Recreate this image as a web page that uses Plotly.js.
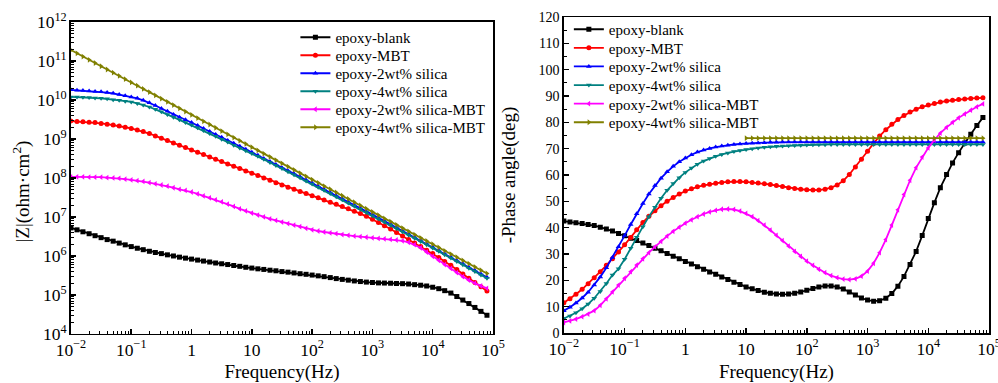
<!DOCTYPE html>
<html>
<head>
<meta charset="utf-8">
<script src="https://cdn.plot.ly/plotly-3.0.1.min.js"></script>
<style>html,body{margin:0;padding:0;background:#fff;}#chart{width:998px;height:383px;}</style>
</head>
<body>
<div id="chart"></div>
<script>
// Frequency (Hz), 10 points per decade, 0.01 Hz to ~79 kHz
var freq = [0.01,0.0126,0.0158,0.02,0.0251,0.0316,0.0398,0.0501,0.0631,0.0794,
  0.1,0.126,0.158,0.2,0.251,0.316,0.398,0.501,0.631,0.794,
  1,1.26,1.58,2,2.51,3.16,3.98,5.01,6.31,7.94,
  10,12.6,15.8,20,25.1,31.6,39.8,50.1,63.1,79.4,
  100,126,158,200,251,316,398,501,631,794,
  1000,1260,1580,2000,2510,3160,3980,5010,6310,7940,
  10000,12600,15800,20000,25100,31600,39800,50100,63100,79400];

var seriesNames = ["epoxy-blank","epoxy-MBT","epoxy-2wt% silica","epoxy-4wt% silica","epoxy-2wt% silica-MBT","epoxy-4wt% silica-MBT"];

// |Z| (ohm·cm²)
var zBlank = [5.25e6,4.68e6,4.17e6,3.72e6,3.31e6,2.95e6,2.63e6,2.40e6,2.14e6,1.93e6,
  1.74e6,1.58e6,1.45e6,1.32e6,1.23e6,1.15e6,1.07e6,1.00e6,9.33e5,8.81e5,
  8.32e5,7.85e5,7.41e5,7.00e5,6.61e5,6.31e5,6.03e5,5.69e5,5.43e5,5.13e5,
  4.90e5,4.68e5,4.52e5,4.32e5,4.17e5,3.98e5,3.85e5,3.67e5,3.51e5,3.39e5,
  3.24e5,3.09e5,2.95e5,2.79e5,2.63e5,2.51e5,2.40e5,2.29e5,2.21e5,2.14e5,
  2.09e5,2.04e5,2.02e5,2.00e5,1.97e5,1.95e5,1.91e5,1.84e5,1.78e5,1.70e5,
  1.58e5,1.45e5,1.29e5,1.12e5,9.12e4,7.41e4,6.03e4,4.79e4,3.80e4,3.02e4];
var zMBT = [2.88e9,2.82e9,2.75e9,2.69e9,2.63e9,2.51e9,2.40e9,2.29e9,2.14e9,2.00e9,
  1.86e9,1.70e9,1.55e9,1.38e9,1.20e9,1.05e9,9.12e8,7.94e8,6.92e8,6.03e8,
  5.25e8,4.57e8,3.98e8,3.47e8,3.02e8,2.63e8,2.29e8,2.00e8,1.74e8,1.51e8,
  1.32e8,1.15e8,1.00e8,8.71e7,7.59e7,6.61e7,5.82e7,5.13e7,4.52e7,3.98e7,
  3.51e7,3.09e7,2.72e7,2.40e7,2.11e7,1.86e7,1.62e7,1.41e7,1.22e7,1.04e7,
  8.71e6,7.24e6,5.96e6,4.90e6,3.98e6,3.24e6,2.63e6,2.14e6,1.74e6,1.41e6,
  1.15e6,9.12e5,7.24e5,5.75e5,4.47e5,3.47e5,2.69e5,2.09e5,1.62e5,1.26e5];
var zSi2 = [1.82e10,1.78e10,1.74e10,1.70e10,1.66e10,1.62e10,1.55e10,1.48e10,1.38e10,1.29e10,
  1.20e10,1.10e10,9.77e9,8.51e9,7.24e9,6.03e9,5.13e9,4.27e9,3.63e9,3.09e9,
  2.63e9,2.21e9,1.85e9,1.56e9,1.31e9,1.10e9,9.20e8,7.73e8,6.49e8,5.45e8,
  4.57e8,3.81e8,3.18e8,2.65e8,2.21e8,1.84e8,1.53e8,1.28e8,1.07e8,8.89e7,
  7.41e7,6.15e7,5.11e7,4.24e7,3.52e7,2.92e7,2.42e7,2.01e7,1.67e7,1.38e7,
  1.15e7,9.48e6,7.83e6,6.47e6,5.35e6,4.42e6,3.65e6,3.01e6,2.49e6,2.06e6,
  1.70e6,1.39e6,1.14e6,9.35e5,7.67e5,6.28e5,5.15e5,4.23e5,3.46e5,2.84e5];
var zSi4 = [1.20e10,1.19e10,1.17e10,1.15e10,1.12e10,1.10e10,1.07e10,1.02e10,9.77e9,9.33e9,
  8.91e9,8.13e9,7.41e9,6.61e9,5.75e9,5.01e9,4.27e9,3.63e9,3.09e9,2.63e9,
  2.29e9,1.95e9,1.66e9,1.38e9,1.17e9,9.77e8,8.32e8,6.92e8,5.89e8,5.01e8,
  4.27e8,3.60e8,3.00e8,2.50e8,2.08e8,1.74e8,1.45e8,1.21e8,1.01e8,8.39e7,
  7.00e7,5.81e7,4.82e7,4.00e7,3.32e7,2.75e7,2.29e7,1.90e7,1.57e7,1.31e7,
  1.08e7,8.95e6,7.40e6,6.11e6,5.05e6,4.17e6,3.44e6,2.84e6,2.35e6,1.94e6,
  1.60e6,1.32e6,1.08e6,8.83e5,7.24e5,5.93e5,4.86e5,3.99e5,3.27e5,2.68e5];
var zSi2MBT = [1.07e8,1.07e8,1.07e8,1.05e8,1.05e8,1.05e8,1.02e8,1.00e8,9.77e7,9.33e7,
  8.91e7,8.51e7,8.13e7,7.59e7,7.08e7,6.61e7,6.17e7,5.62e7,5.13e7,4.79e7,
  4.37e7,3.89e7,3.47e7,3.09e7,2.75e7,2.45e7,2.14e7,1.86e7,1.62e7,1.43e7,
  1.26e7,1.12e7,1.00e7,8.91e6,8.13e6,7.41e6,6.76e6,6.17e6,5.62e6,5.13e6,
  4.68e6,4.37e6,4.12e6,3.89e6,3.72e6,3.55e6,3.39e6,3.24e6,3.13e6,3.02e6,
  2.92e6,2.82e6,2.75e6,2.66e6,2.57e6,2.45e6,2.24e6,1.95e6,1.62e6,1.26e6,
  9.77e5,7.76e5,6.03e5,4.79e5,3.76e5,2.95e5,2.40e5,2.00e5,1.70e5,1.48e5];
var zSi4MBT = [1.91e11,1.57e11,1.30e11,1.07e11,8.87e10,7.33e10,6.05e10,5.00e10,4.13e10,3.41e10,
  2.82e10,2.33e10,1.92e10,1.59e10,1.31e10,1.08e10,8.95e9,7.40e9,6.11e9,5.05e9,
  4.17e9,3.44e9,2.84e9,2.35e9,1.94e9,1.60e9,1.32e9,1.09e9,9.04e8,7.46e8,
  6.17e8,5.09e8,4.21e8,3.48e8,2.87e8,2.37e8,1.96e8,1.62e8,1.34e8,1.10e8,
  9.12e7,7.53e7,6.22e7,5.14e7,4.25e7,3.51e7,2.90e7,2.39e7,1.98e7,1.63e7,
  1.35e7,1.11e7,9.20e6,7.60e6,6.28e6,5.19e6,4.29e6,3.54e6,2.92e6,2.42e6,
  2.00e6,1.65e6,1.36e6,1.12e6,9.29e5,7.67e5,6.34e5,5.24e5,4.33e5,3.57e5];

// -Phase angle (deg)
var pBlank = [42.5,42.2,41.9,41.6,41.2,40.8,40.2,39.5,38.7,37.8,
  36.9,36.0,35.1,34.2,33.2,32.2,31.2,30.2,29.2,28.2,
  27.2,26.2,25.2,24.2,23.2,22.3,21.3,20.3,19.3,18.4,
  17.5,16.8,16.1,15.5,15.1,14.8,14.7,14.8,15.1,15.6,
  16.2,16.9,17.5,17.9,17.9,17.5,16.7,15.6,14.4,13.3,
  12.5,12.1,12.3,13.2,15.0,17.8,21.5,26.0,31.0,37.0,
  43.5,49.5,55.2,60.2,64.6,68.5,72.2,75.5,78.8,81.8];
var pMBT = [11.5,13.0,14.7,16.6,18.7,21.0,23.3,25.7,28.2,30.8,
  33.5,36.3,39.2,42.0,44.3,46.4,48.3,50.0,51.5,52.8,
  53.9,54.8,55.5,56.1,56.5,56.9,57.2,57.4,57.5,57.5,
  57.4,57.2,57.0,56.7,56.4,56.0,55.6,55.2,54.9,54.6,
  54.4,54.3,54.3,54.6,55.2,56.2,57.8,60.2,63.0,66.0,
  69.0,72.0,74.8,77.2,79.3,81.1,82.6,83.9,85.0,85.9,
  86.6,87.2,87.7,88.1,88.4,88.7,88.9,89.1,89.2,89.3];
var pSi2 = [8.5,9.8,11.4,13.3,15.5,18.2,21.3,24.8,28.7,32.8,
  37.0,41.2,45.3,49.2,52.8,56.0,58.8,61.2,63.3,65.0,
  66.5,67.7,68.7,69.5,70.1,70.6,71.0,71.3,71.6,71.8,
  72.0,72.1,72.2,72.3,72.4,72.4,72.5,72.5,72.5,72.5,
  72.5,72.5,72.5,72.5,72.5,72.5,72.5,72.5,72.5,72.5,
  72.5,72.5,72.5,72.5,72.5,72.5,72.5,72.5,72.5,72.5,
  72.5,72.5,72.5,72.5,72.5,72.5,72.5,72.5,72.5,72.5];
var pSi4 = [5.5,6.5,7.7,9.2,11.0,13.2,15.8,18.8,22.0,24.4,
  28.0,32.2,36.4,40.4,44.2,47.8,51.2,54.2,56.8,59.0,
  61.0,62.7,64.1,65.3,66.3,67.1,67.8,68.4,68.9,69.3,
  69.7,70.0,70.3,70.5,70.7,70.9,71.0,71.1,71.2,71.3,
  71.4,71.5,71.5,71.5,71.6,71.6,71.6,71.6,71.6,71.6,
  71.6,71.6,71.6,71.6,71.6,71.6,71.6,71.6,71.6,71.6,
  71.6,71.6,71.6,71.6,71.6,71.6,71.6,71.6,71.6,71.6];
var pSi2MBT = [4.0,4.6,5.3,6.2,7.2,8.5,10.5,13.0,15.6,18.2,
  20.8,23.3,25.8,28.2,30.5,32.7,34.8,36.8,38.6,40.2,
  41.7,43.0,44.2,45.2,46.0,46.6,47.0,47.1,46.9,46.3,
  45.4,44.2,42.7,41.0,39.1,37.1,35.1,33.0,31.0,29.1,
  27.3,25.7,24.2,22.9,21.8,21.0,20.5,20.3,20.6,21.6,
  23.5,26.5,30.5,35.5,41.0,46.8,52.6,58.0,62.8,66.8,
  70.3,73.3,75.9,78.1,80.0,81.7,83.2,84.6,85.9,87.0];
var pSi4MBT = [null,null,null,null,null,null,null,null,null,null,
  null,null,null,null,null,null,null,null,null,null,
  null,null,null,null,null,null,null,null,null,null,
  74.0,74.0,74.0,74.0,74.0,74.0,74.0,74.0,74.0,74.0,
  74.0,74.0,74.0,74.0,74.0,74.0,74.0,74.0,74.0,74.0,
  74.0,74.0,74.0,74.0,74.0,74.0,74.0,74.0,74.0,74.0,
  74.0,74.0,74.0,74.0,74.0,74.0,74.0,74.0,74.0,74.0];

var colors = ["#000000","#ff0000","#0000ff","#008080","#ff00ff","#808000"];
var symbols = ["square","circle","triangle-up","triangle-down","triangle-left","triangle-right"];
var zSeries = [zBlank,zMBT,zSi2,zSi4,zSi2MBT,zSi4MBT];
var pSeries = [pBlank,pMBT,pSi2,pSi4,pSi2MBT,pSi4MBT];

var FONT = "Liberation Serif, Times New Roman, serif";
var legendFont = {family: FONT, size: 15, color: "#000"};

var layout = {
  width: 998, height: 383,
  margin: {l: 0, r: 0, t: 0, b: 0},
  paper_bgcolor: "#fff", plot_bgcolor: "#fff",
  font: {family: FONT, color: "#000"},
  showlegend: true,
  annotations: [{text: "|Z|(ohm·cm<sup>2</sup>)", textangle: -90, xref: "paper", yref: "paper",
    x: 0.022, y: 0.50, xanchor: "center", yanchor: "middle", showarrow: false,
    font: {family: FONT, size: 19, color: "#000"}}]
};

var traces = [];
// one legend box per entry so that the row spacing can match the original
for (var i = 0; i < 6; i++) {
  var lgL = "legend" + (i === 0 ? "" : (i + 1));
  var lgR = "legend" + (i + 7);
  layout[lgL] = {x: 0.296, y: 1 - (21 + 18 * i) / 383, xanchor: "left", yanchor: "top",
    bgcolor: "rgba(0,0,0,0)", font: legendFont, itemwidth: 30};
  layout[lgR] = {x: 0.570, y: 1 - (13 + 18.6 * i) / 383, xanchor: "left", yanchor: "top",
    bgcolor: "rgba(0,0,0,0)", font: legendFont, itemwidth: 30};
  traces.push({x: freq, y: zSeries[i], name: seriesNames[i], type: "scatter", mode: "lines+markers",
    xaxis: "x", yaxis: "y", legend: lgL,
    line: {color: colors[i], width: 1.8}, marker: {symbol: symbols[i], size: 5, color: colors[i]}});
  traces.push({x: freq, y: pSeries[i], name: seriesNames[i], type: "scatter", mode: "lines+markers",
    xaxis: "x2", yaxis: "y2", legend: lgR, connectgaps: false,
    line: {color: colors[i], width: 1.8}, marker: {symbol: symbols[i], size: 5, color: colors[i]}});
}

function axisBase() {
  return {showline: true, linecolor: "#000", linewidth: 1.5, mirror: true, ticks: "inside",
    ticklen: 5, tickwidth: 1.5, tickcolor: "#000", showgrid: false, zeroline: false,
    automargin: false, ticklabeloverflow: "allow",
    tickfont: {family: FONT, size: 14, color: "#000"}};
}
var xa = axisBase(); Object.assign(xa, {type: "log", range: [-2, 5], dtick: 1, exponentformat: "power",
  domain: [0.0711, 0.494], anchor: "y",
  minor: {ticks: "inside", ticklen: 3, tickwidth: 1, tickcolor: "#000", dtick: "D1", showgrid: false},
  title: {text: "Frequency(Hz)", font: {family: FONT, size: 19, color: "#000"}}});
var ya = axisBase(); Object.assign(ya, {type: "log", range: [4, 12], dtick: 1, exponentformat: "power",
  domain: [0.128, 0.9426], anchor: "x",
  minor: {ticks: "inside", ticklen: 3, tickwidth: 1, tickcolor: "#000", dtick: "D1", showgrid: false}});
var xa2 = axisBase(); Object.assign(xa2, {type: "log", range: [-2, 5], dtick: 1, exponentformat: "power",
  domain: [0.565, 0.991], anchor: "y2",
  minor: {ticks: "inside", ticklen: 3, tickwidth: 1, tickcolor: "#000", dtick: "D1", showgrid: false},
  title: {text: "Frequency(Hz)", font: {family: FONT, size: 19, color: "#000"}}});
var ya2 = axisBase(); Object.assign(ya2, {range: [0, 120], dtick: 10, domain: [0.1305, 0.9556], anchor: "x2",
  minor: {ticks: "inside", ticklen: 3, tickwidth: 1, tickcolor: "#000", dtick: 5, showgrid: false},
  title: {text: "-Phase angle(deg)", font: {family: FONT, size: 19, color: "#000"}}});

layout.xaxis = xa; layout.yaxis = ya; layout.xaxis2 = xa2; layout.yaxis2 = ya2;

Plotly.newPlot("chart", traces, layout, {displayModeBar: false, staticPlot: true});
</script>
</body>
</html>
